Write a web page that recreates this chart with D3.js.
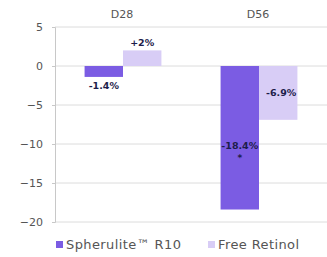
<!DOCTYPE html>
<html>
<head>
<meta charset="utf-8">
<script src="https://cdn.jsdelivr.net/npm/d3@7"></script>
<style>
body { margin: 0; background: #fff; }
text { font-family: "DejaVu Sans", Verdana, sans-serif; }
</style>
</head>
<body>
<script>
//chart data
var categories = ["D28", "D56"];
var seriesNames = ["Spherulite\u2122 R10", "Free Retinol"];
var spheruliteVals = [-1.4, -18.4];
var retinolVals = [2, -6.9];
var barLabels = [["-1.4%", "-18.4%"], ["+2%", "-6.9%"]];
var yTicks = [5, 0, -5, -10, -15, -20];
var colors = ["#7b5ce3", "#d8cdf6"];

(function(){
    var width = 327, height = 257;
    var margin = {top: 27, right: 0, bottom: 35, left: 55};

    var svg = d3.select("body").append("svg")
        .attr("width", width)
        .attr("height", height);

    var x = d3.scaleBand()
        .domain(categories)
        .range([margin.left, width - margin.right])
        .paddingInner(0)
        .paddingOuter(0);

    var xSub = d3.scaleBand()
        .domain([0, 1])
        .range([0, x.bandwidth()])
        .paddingInner(0)
        .paddingOuter(0.77);

    var y = d3.scaleLinear()
        .domain([-20, 5])
        .range([height - margin.bottom, margin.top]);

    //gridlines
    svg.selectAll(".grid")
        .data(yTicks)
        .enter()
        .append("line")
        .attr("x1", margin.left)
        .attr("x2", width)
        .attr("y1", function(d){ return y(d); })
        .attr("y2", function(d){ return y(d); })
        .attr("stroke", "#dcdcdc")
        .attr("stroke-width", 1);

    //y axis
    var yAxis = svg.append("g")
        .attr("transform", "translate(" + margin.left + ",0)")
        .call(d3.axisLeft(y).tickValues(yTicks).tickSize(3).tickPadding(9));
    yAxis.select(".domain").attr("stroke", "#c8c8c8");
    yAxis.selectAll(".tick line").attr("stroke", "#c8c8c8");
    yAxis.selectAll(".tick text")
        .attr("fill", "#555")
        .style("font-size", "11px");

    //category labels on top
    svg.selectAll(".cat")
        .data(categories)
        .enter()
        .append("text")
        .attr("x", function(d){ return x(d) + x.bandwidth() / 2 - 1; })
        .attr("y", 18)
        .attr("text-anchor", "middle")
        .attr("fill", "#555")
        .style("font-size", "11px")
        .text(function(d){ return d; });

    var series = [spheruliteVals, retinolVals];

    //bars
    series.forEach(function(vals, s){
        svg.selectAll(".bar" + s)
            .data(vals)
            .enter()
            .append("rect")
            .attr("x", function(d, i){ return x(categories[i]) + xSub(s); })
            .attr("width", xSub.bandwidth())
            .attr("y", function(d){ return y(Math.max(0, d)); })
            .attr("height", function(d){ return Math.abs(y(d) - y(0)); })
            .attr("fill", colors[s]);
    });

    //value labels
    var labelPos = [
        [function(d){ return y(d) + 12; }, function(d){ return y(-10) + 5; }],
        [function(d){ return y(d) - 4; }, function(d){ return y(-3.5) + 3; }]
    ];
    var labelShift = [[0, 0], [0, 3]];
    series.forEach(function(vals, s){
        vals.forEach(function(d, i){
            var cx = x(categories[i]) + xSub(s) + xSub.bandwidth() / 2 + labelShift[s][i];
            svg.append("text")
                .attr("x", cx)
                .attr("y", labelPos[s][i](d))
                .attr("text-anchor", "middle")
                .attr("fill", "#1d1d4a")
                .style("font-size", "9.5px")
                .style("font-weight", "bold")
                .text(barLabels[s][i]);
        });
    });

    //asterisk under -18.4%
    svg.append("text")
        .attr("x", x(categories[1]) + xSub(0) + xSub.bandwidth() / 2)
        .attr("y", y(-10) + 17)
        .attr("text-anchor", "middle")
        .attr("fill", "#1d1d4a")
        .style("font-size", "9px")
        .style("font-weight", "bold")
        .text("*");

    //legend
    var legendX = [56, 208];
    seriesNames.forEach(function(name, s){
        svg.append("rect")
            .attr("x", legendX[s])
            .attr("y", 241)
            .attr("width", 7)
            .attr("height", 7)
            .attr("fill", colors[s]);
        svg.append("text")
            .attr("x", legendX[s] + 10)
            .attr("y", 249)
            .attr("fill", "#555")
            .style("font-size", "13px")
            .style("letter-spacing", "0.4px")
            .text(name);
    });
})();
</script>
</body>
</html>
